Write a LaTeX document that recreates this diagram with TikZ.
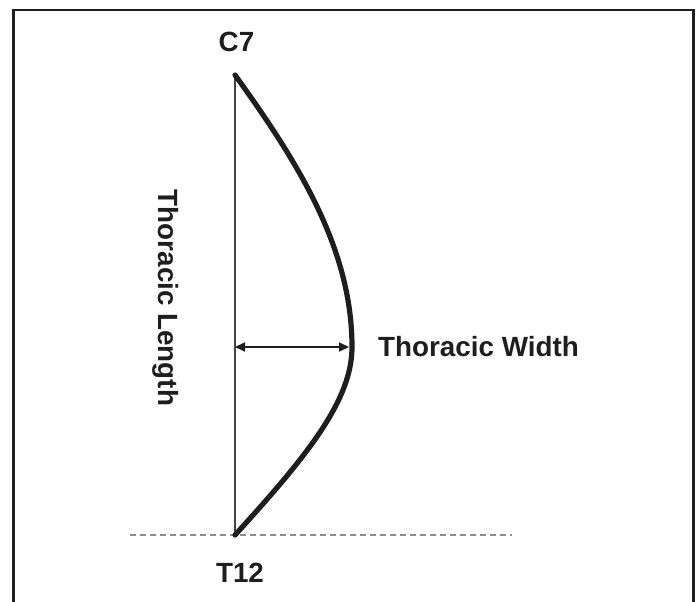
\documentclass[tikz,border=0pt]{standalone}
\usepackage{fontspec}
\setmainfont{Liberation Sans}
\usetikzlibrary{arrows.meta}
\definecolor{framec}{HTML}{231F20}
\definecolor{curvec}{HTML}{1E1E1E}
\definecolor{axisc}{HTML}{444444}
\definecolor{dashc}{HTML}{8C8C8C}
\tikzset{
  lbl/.style={font=\fontsize{27.8}{30}\selectfont\bfseries, text=curvec, inner sep=0pt},
  framebox/.style={draw=framec, line width=2.5pt},
  spine/.style={draw=curvec, line width=5.2pt, line cap=round, line join=round},
  axis/.style={draw=axisc, line width=2pt},
  dim/.style={draw=curvec, line width=2pt, {Triangle[length=10pt,width=9pt]}-{Triangle[length=10pt,width=9pt]}},
  baseline/.style={draw=dashc, line width=1.5pt, dash pattern=on 6pt off 4pt}
}
\begin{document}
\begin{tikzpicture}[x=1pt,y=-1pt]
\useasboundingbox (0,0) rectangle (699,602);
% frame (open at the bottom)
\draw[framebox] (13.5,602) -- (13.5,10) -- (693.5,10) -- (693.5,602);
% key points
\coordinate (top) at (235,75);
\coordinate (bot) at (235,535);
\coordinate (apex) at (352,347);
\coordinate (axmid) at (235,347);
\coordinate (dl) at (130,535);
\coordinate (dr) at (512,535);
% baseline
\draw[baseline] (dl) -- (dr);
% straight axis
\draw[axis] (top) -- (bot);
% curve
\draw[spine] (top) .. controls (300,165) and (352,250) .. (apex)
  .. controls (352,400) and (308,455) .. (bot);
% width arrow
\draw[dim] (axmid) -- ([xshift=-3pt]apex);
% labels
\node[lbl] (c7) at (236.5,42) {C7};
\node[lbl] (t12) at (240,573) {T12};
\node[lbl, anchor=west] (tw) at (378,347) {Thoracic Width};
\node[lbl, rotate=-90] (tl) at (166,298) {Thoracic Length};
\end{tikzpicture}
\end{document}
